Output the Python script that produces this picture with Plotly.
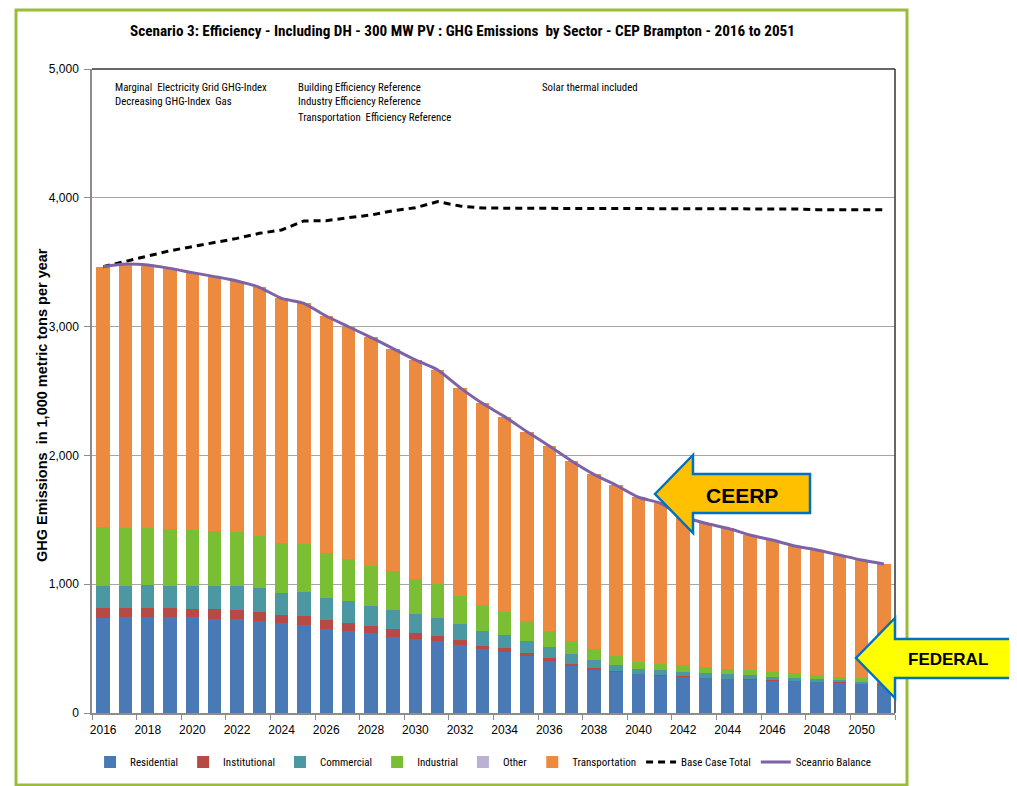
import plotly.graph_objects as go

# ---------------- data ----------------
years = list(range(2016, 2052))

residential = [735, 743, 743, 743, 743, 732, 727, 712, 696, 686, 655, 639, 618, 593, 572, 556, 525, 494,
               471, 440, 401, 370, 336, 321, 303, 292, 282, 274, 266, 261, 256, 251, 243, 238, 230, 225]
institutional = [83, 75, 75, 75, 67, 78, 75, 75, 65, 70, 70, 62, 57, 62, 52, 44, 39, 30,
                 31, 23, 23, 13, 11, 3, 2, 2, 2, 1, 1, 1, 1, 1, 1, 1, 1, 1]
commercial = [168, 168, 173, 168, 176, 176, 184, 184, 168, 181, 166, 169, 156, 148, 148, 140, 125, 116,
              101, 94, 86, 72, 62, 46, 34, 37, 37, 33, 36, 33, 25, 22, 17, 17, 12, 9]
industrial = [455, 448, 443, 440, 435, 427, 419, 406, 393, 377, 354, 328, 313, 297, 266, 259, 217, 196,
              184, 160, 130, 107, 85, 73, 54, 49, 49, 46, 36, 36, 36, 34, 34, 23, 26, 21]
other = [0] * 36
transportation = [2024, 2052, 2044, 2026, 1998, 1975, 1949, 1928, 1897, 1867, 1837, 1801, 1773, 1729, 1703, 1664,
                  1620, 1568, 1514, 1467, 1433, 1395, 1359, 1325, 1282, 1248, 1154, 1119, 1095, 1051, 1025,
                  989, 971, 948, 919, 901]
base_case_total = [3465, 3509, 3548, 3589, 3620, 3652, 3685, 3724, 3750, 3820, 3822, 3846, 3866, 3900, 3923,
                   3970, 3936, 3921, 3918, 3918, 3918, 3918, 3918, 3918, 3918, 3918, 3918, 3918, 3918, 3918,
                   3918, 3913, 3908, 3908, 3908, 3908]

x_tick_values = list(range(2016, 2051, 2))
x_tick_labels = [str(v) for v in x_tick_values]
y_tick_values = [0, 1000, 2000, 3000, 4000, 5000]
y_tick_labels = ["0", "1,000", "2,000", "3,000", "4,000", "5,000"]

scenario_balance = [r + i + c + d + o + t for r, i, c, d, o, t in
                    zip(residential, institutional, commercial, industrial, other, transportation)]

NARROW = "Liberation Sans Narrow, Arial Narrow, Roboto Condensed, Liberation Sans, sans-serif"
REG = "Liberation Sans, Arial, sans-serif"

# page offset of the plot div (body margin)
OFF = 8
# plot-area geometry in page pixels
L, R, T, B = 92, 895, 69, 713
W, H = R - L, B - T


def px(x):
    return (x - L) / W


def py(y):
    return (B - y) / H


fig = go.Figure()
series = [
    ("Residential", residential, "#4A7AB6"),
    ("Institutional", institutional, "#B84A46"),
    ("Commercial", commercial, "#4B97A2"),
    ("Industrial", industrial, "#79BE33"),
    ("Other", other, "#BCB0D4"),
    ("Transportation", transportation, "#EC8A3F"),
]
for name, vals, col in series:
    fig.add_trace(go.Bar(x=years, y=vals, name=name, marker=dict(color=col, line=dict(width=0)),
                         width=0.6))

fig.add_trace(go.Scatter(x=years, y=base_case_total, name="Base Case Total", mode="lines",
                         line=dict(color="black", width=3, dash="7px,5px")))
fig.add_trace(go.Scatter(x=years, y=scenario_balance, name="Sceanrio Balance", mode="lines",
                         line=dict(color="#7F62A6", width=3, shape="spline", smoothing=0.6)))

shapes = []
# outer green frame
shapes.append(dict(type="rect", xref="paper", yref="paper", x0=px(16), x1=px(907), y0=py(785), y1=py(10),
                   line=dict(color="#9BBB3B", width=3), layer="below"))
# top/right dark border of plot area
shapes.append(dict(type="line", xref="paper", yref="paper", x0=0, x1=1, y0=1, y1=1,
                   line=dict(color="#333333", width=1.5)))
shapes.append(dict(type="line", xref="paper", yref="paper", x0=1, x1=1, y0=0, y1=1,
                   line=dict(color="#333333", width=1.5)))


def arrow_path(pts):
    return "M " + " L ".join(f"{px(x):.5f},{py(y):.5f}" for x, y in pts) + " Z"


ceerp = [(655, 494), (693, 455), (693, 474), (810, 474), (810, 513), (693, 513), (693, 533)]
federal = [(856, 658), (895, 618), (895, 639), (1030, 639), (1030, 678), (895, 678), (895, 698)]
shapes.append(dict(type="path", xref="paper", yref="paper", path=arrow_path(ceerp),
                   fillcolor="#FFC000", line=dict(color="#0070C0", width=2.5)))
shapes.append(dict(type="path", xref="paper", yref="paper", path=arrow_path(federal),
                   fillcolor="#FFFF00", line=dict(color="#0070C0", width=2.5)))

annotations = []


def note(text, x, y, size=10, anchor="left", font=NARROW, bold=False, angle=0):
    annotations.append(dict(text=f"<b>{text}</b>" if bold else text, xref="paper", yref="paper",
                            x=px(x), y=py(y), xanchor=anchor, yanchor="middle", showarrow=False,
                            textangle=angle, font=dict(family=font, size=size, color="black")))


note("Marginal  Electricity Grid GHG-Index", 113, 87, size=10.8)
note("Decreasing GHG-Index  Gas", 113, 102, size=10.8)
note("Building Efficiency Reference", 296, 87, size=10.8)
note("Industry Efficiency Reference", 296, 102, size=10.8)
note("Transportation  Efficiency Reference", 296, 117, size=10.8)
note("Solar thermal included", 540, 87, size=10.8)
note("CEERP", 742, 495, size=21, anchor="center", font=REG, bold=True)
note("FEDERAL", 948, 659, size=17, anchor="center", font=REG, bold=True)
note("GHG Emissions  in 1,000 metric tons per year", 42, 405, size=14.5, anchor="center", font=REG,
     bold=True, angle=-90)
note("Scenario 3: Efficiency - Including DH - 300 MW PV : GHG Emissions  by Sector - CEP Brampton - 2016 to 2051",
     462, 31, size=15.2, anchor="center", font=NARROW, bold=True)

fig.update_layout(
    width=1017, height=786,
    margin=dict(l=L - OFF, r=1017 - R + OFF, t=T - OFF, b=786 - B + OFF, pad=0),
    paper_bgcolor="white", plot_bgcolor="white",
    barmode="stack", bargap=0.4,
    showlegend=True,
    legend=dict(orientation="h", x=0.487, xanchor="center", y=py(762), yanchor="middle",
                traceorder="normal", font=dict(family=NARROW, size=11, color="black"),
                itemwidth=30, tracegroupgap=0, bgcolor="rgba(0,0,0,0)"),
    shapes=shapes, annotations=annotations,
    xaxis=dict(range=[2015.5, 2051.5], tickmode="array", tickvals=x_tick_values, ticktext=x_tick_labels,
               ticks="", showgrid=False, showline=True, linecolor="#8C8C8C", linewidth=1.5,
               ticklabelstandoff=5,
               tickfont=dict(family=REG, size=12, color="black"),
               minor=dict(tickmode="array", tickvals=[v - 0.5 for v in x_tick_values] + [2051.5],
                          ticks="outside", ticklen=5, tickcolor="#8C8C8C", showgrid=False),
               zeroline=False, fixedrange=True),
    yaxis=dict(range=[0, 5000], tickmode="array", tickvals=y_tick_values, ticktext=y_tick_labels,
               ticks="outside", ticklen=6, tickcolor="#8C8C8C", showgrid=True, gridcolor="#A6A6A6",
               gridwidth=1, showline=True, linecolor="#8C8C8C", linewidth=1.5,
               ticklabelstandoff=3,
               tickfont=dict(family=REG, size=12, color="black"), zeroline=False, fixedrange=True),
)

fig.write_html("out.html")
